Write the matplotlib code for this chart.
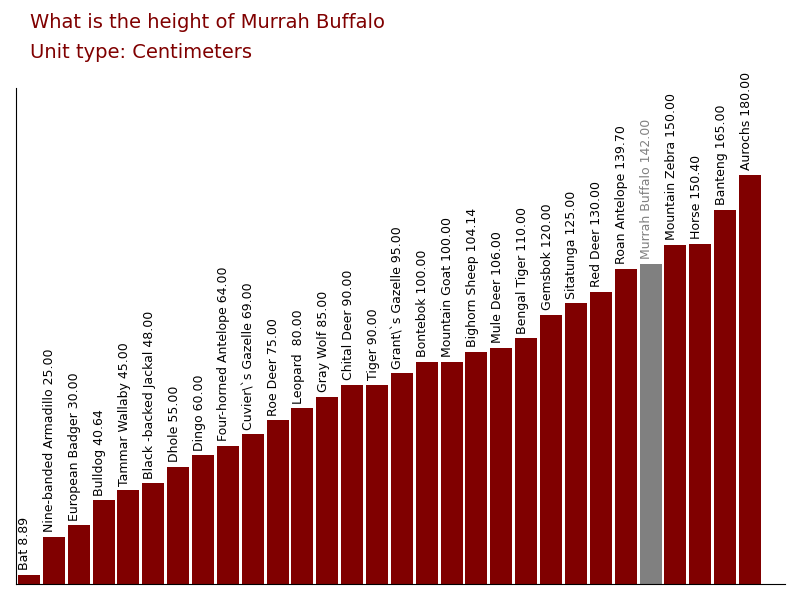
import matplotlib.pyplot as plt

names = ["Bat", "Nine-banded Armadillo", "European Badger", "Bulldog", "Tammar Wallaby",
         "Black -backed Jackal", "Dhole", "Dingo", "Four-horned Antelope", "Cuvier\\`s Gazelle",
         "Roe Deer", "Leopard ", "Gray Wolf", "Chital Deer", "Tiger", "Grant\\`s Gazelle",
         "Bontebok", "Mountain Goat", "Bighorn Sheep", "Mule Deer", "Bengal Tiger", "Gemsbok",
         "Sitatunga", "Red Deer", "Roan Antelope", "Murrah Buffalo", "Mountain Zebra", "Horse",
         "Banteng", "Aurochs"]
values = [8.89, 25.00, 30.00, 40.64, 45.00, 48.00, 55.00, 60.00, 64.00, 69.00,
          75.00, 80.00, 85.00, 90.00, 90.00, 95.00, 100.00, 100.00, 104.14, 106.00,
          110.00, 120.00, 125.00, 130.00, 139.70, 142.00, 150.00, 150.40, 165.00, 180.00]
highlight = "Murrah Buffalo"

fig = plt.figure(figsize=(8, 6), dpi=100)
ax = fig.add_axes([0.02, 0.0267, 0.961, 0.826])
colors = ["#808080" if n == highlight else "#800000" for n in names]
x = range(len(names))
ax.bar(x, values, width=0.885, color=colors)
for i, (n, v) in enumerate(zip(names, values)):
    ax.text(i - 0.42, v + 2, f"{n} {v:.2f}", rotation=90, ha="left", va="bottom",
            fontsize=9, color="#808080" if n == highlight else "black")
ax.set_xlim(-0.52, 30.4)
ax.set_ylim(4.9, 217)
ax.set_xticks([])
ax.set_yticks([])
ax.spines["top"].set_visible(False)
ax.spines["right"].set_visible(False)
fig.text(0.0375, 0.962, "What is the height of Murrah Buffalo", fontsize=14, color="#800000", va="center")
fig.text(0.0375, 0.912, "Unit type: Centimeters", fontsize=14, color="#800000", va="center")
fig.savefig("out.png")
